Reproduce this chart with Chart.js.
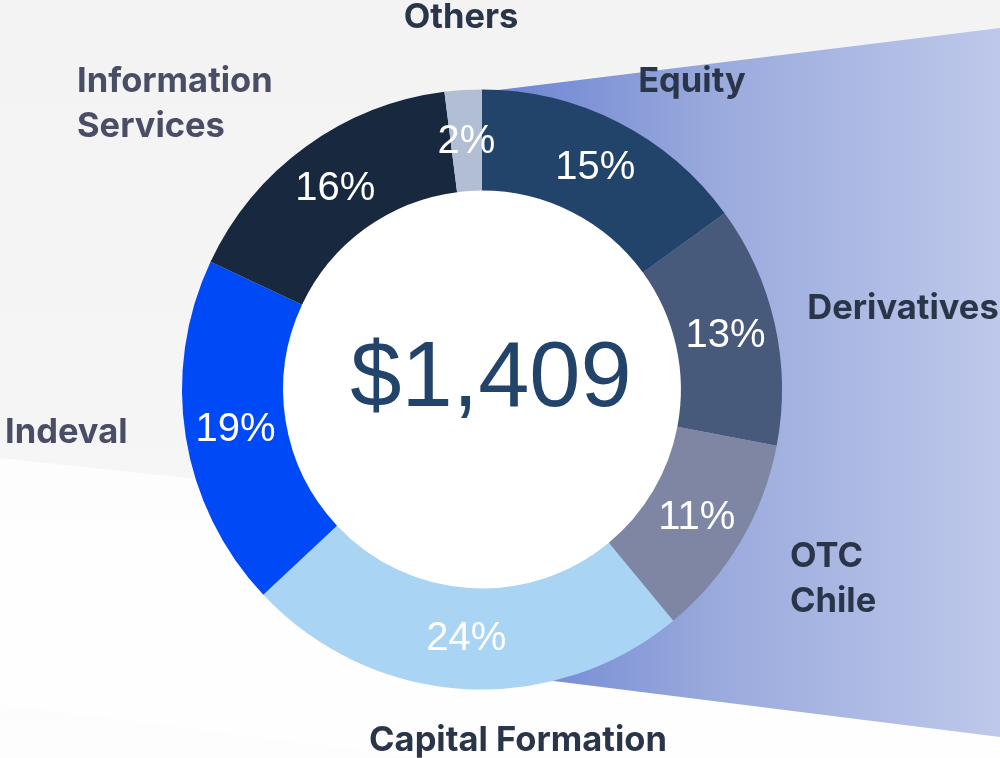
<!DOCTYPE html>
<html>
<head>
<meta charset="utf-8">
<script src="https://cdn.jsdelivr.net/npm/chart.js@4.4.1/dist/chart.umd.min.js"></script>
<style>
html,body{margin:0;padding:0;background:#f4f4f4;}
#wrap{width:1000px;height:758px;position:relative;}
</style>
</head>
<body>
<div id="wrap"><canvas id="c"></canvas></div>
<script>
const categories = ["Equity","Derivatives","OTC Chile","Capital Formation","Indeval","Information Services","Others"];
const shares = [15,13,11,24,19,16,2];
const sliceColors = ["#23446A","#475A7B","#7F86A3","#A9D4F3","#0049F7","#17283F","#B2BED4"];
const centerTotal = "$1,409";

// label anchor layout (text annotations)
const labelLayout = {
  "Equity": {x:692, y:82, align:"center", color:"#2A3549", lines:["Equity"]},
  "Derivatives": {x:903, y:309, align:"center", color:"#2A3549", lines:["Derivatives"]},
  "OTC Chile": {x:790, y:557, align:"left", color:"#2A3549", lines:["OTC","Chile"]},
  "Capital Formation": {x:518, y:741, align:"center", color:"#2A3549", lines:["Capital Formation"]},
  "Indeval": {x:5, y:433, align:"left", color:"#4A4D66", lines:["Indeval"]},
  "Information Services": {x:77, y:82, align:"left", color:"#4A4D66", lines:["Information","Services"]},
  "Others": {x:461, y:18, align:"center", color:"#2A3549", lines:["Others"]}
};

const bgPlugin = {
  id:'bg',
  beforeDatasetsDraw(chart){
    const ctx = chart.ctx, W = chart.width, H = chart.height;
    ctx.save();
    let g = ctx.createLinearGradient(0,0,0,H);
    g.addColorStop(0,'#f3f3f3');
    g.addColorStop(0.55,'#f5f5f5');
    g.addColorStop(1,'#fafafa');
    ctx.fillStyle = g; ctx.fillRect(0,0,W,H);
    ctx.fillStyle = 'rgba(255,255,255,0.8)';
    ctx.beginPath();
    ctx.moveTo(0,458); ctx.lineTo(300,490); ctx.lineTo(1000,560); ctx.lineTo(1000,758);
    ctx.lineTo(420,758); ctx.lineTo(0,705); ctx.closePath(); ctx.fill();
    ctx.fillStyle = 'rgba(255,255,255,0.55)';
    ctx.beginPath();
    ctx.moveTo(0,705); ctx.lineTo(420,758); ctx.lineTo(0,758); ctx.closePath(); ctx.fill();
    const a = chart.getDatasetMeta(0).data[0];
    const cx = a.x, cy = a.y;
    let bg = ctx.createLinearGradient(cx,0,W,0);
    bg.addColorStop(0,'#6A82D1');
    bg.addColorStop(0.45,'#9AAADD');
    bg.addColorStop(1,'#BEC8EA');
    ctx.fillStyle = bg;
    ctx.beginPath();
    ctx.moveTo(cx,92); ctx.lineTo(W,28); ctx.lineTo(W,737); ctx.lineTo(cx,672);
    ctx.closePath(); ctx.fill();
    ctx.fillStyle = '#FFFFFF';
    ctx.beginPath();
    ctx.arc(cx, cy, a.innerRadius + 1, 0, Math.PI*2);
    ctx.fill();
    ctx.restore();
  }
};

const labelPlugin = {
  id:'labels',
  afterDraw(chart){
    const ctx = chart.ctx;
    const meta = chart.getDatasetMeta(0);
    ctx.save();
    ctx.fillStyle = '#FFFFFF';
    ctx.font = '40px "Liberation Sans", Arial, sans-serif';
    ctx.textAlign = 'center'; ctx.textBaseline = 'middle';
    meta.data.forEach((arc,i)=>{
      const p = arc.tooltipPosition();
      ctx.fillText(shares[i]+'%', p.x, p.y+1);
    });
    const a = meta.data[0];
    ctx.fillStyle = '#23446A';
    ctx.font = '92px "Liberation Sans", Arial, sans-serif';
    ctx.fillText(centerTotal, a.x + 9, a.y - 9);
    ctx.font = 'bold 34.5px Inter, "Noto Sans", sans-serif';
    categories.forEach(cat=>{
      const L = labelLayout[cat];
      ctx.fillStyle = L.color;
      ctx.textAlign = L.align;
      L.lines.forEach((ln,j)=>ctx.fillText(ln, L.x, L.y + j*45));
    });
    ctx.restore();
  }
};

new Chart(document.getElementById('c'), {
  type:'doughnut',
  data:{ labels:categories, datasets:[{ data:shares, backgroundColor:sliceColors, borderWidth:0, hoverOffset:0 }]},
  options:{
    responsive:true, maintainAspectRatio:false, animation:false,
    cutout:'66.3%',
    layout:{ padding:{left:182, right:218, top:89, bottom:68} },
    plugins:{ legend:{display:false}, tooltip:{enabled:false} }
  },
  plugins:[bgPlugin, labelPlugin]
});
</script>
</body>
</html>
